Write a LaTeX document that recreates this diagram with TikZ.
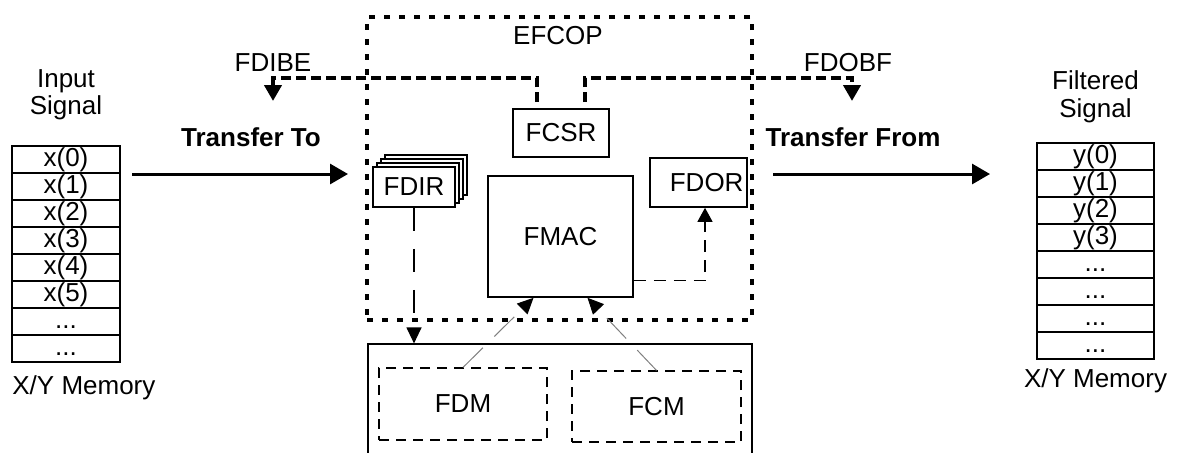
\documentclass[tikz,border=0pt]{standalone}
\usepackage{fontspec}
\setmainfont{Liberation Sans}
\usetikzlibrary{positioning,arrows.meta,shadows}

\begin{document}
\begin{tikzpicture}[x=0.5pt,y=-0.5pt]
		\tikzset{Cell/.style = {draw, line width=0.8pt, inner sep=0pt, outer sep=0pt, minimum width=54pt, minimum height=13.5pt, text height=9.5pt, text depth=2.6pt, font=\fontsize{13}{13}\selectfont},
			Block/.style = {draw, line width=0.8pt, inner sep=0pt, font=\fontsize{13}{13}\selectfont},
			Part/.style = {Block, line width=0.6pt, dash pattern=on 5pt off 3.5pt},
			Lbl/.style = {inner sep=0pt, align=center, font=\fontsize{13}{13}\selectfont},
			Dots/.style = {line width=2pt, dash pattern=on 3pt off 4.5pt},
			Flag/.style = {line width=2pt, dash pattern=on 5pt off 2.5pt, -{Triangle[width=8.5pt,length=8pt]}},
			Big/.style = {line width=1.5pt, -{Triangle[width=10pt,length=9pt]}},
			Link/.style = {line width=0.6pt, dash pattern=on 11.5pt off 9pt, -{Triangle[width=7.5pt,length=8pt]}},
			Out/.style = {line width=0.6pt, dash pattern=on 6pt off 4pt, -{Triangle[width=7.5pt,length=7pt]}},
			Feed/.style = {gray, line width=0.5pt, dash pattern=on 14pt off 8pt, -{Triangle[width=7.5pt,length=8pt,color=black]}}}
		\useasboundingbox (0,0) rectangle (1187,452);
		\clip (0,0) rectangle (1187,452);
		% input memory
		\node[Cell]    (x0) at (66,159.5) {x(0)};
		\node[Cell]    (x1) [below = 0pt of x0] {x(1)};
		\node[Cell]    (x2) [below = 0pt of x1] {x(2)};
		\node[Cell]    (x3) [below = 0pt of x2] {x(3)};
		\node[Cell]    (x4) [below = 0pt of x3] {x(4)};
		\node[Cell]    (x5) [below = 0pt of x4] {x(5)};
		\node[Cell]    (x6) [below = 0pt of x5] {...};
		\node[Cell]    (x7) [below = 0pt of x6] {...};
		\node[Lbl, font=\fontsize{13}{11}\selectfont] (inSig) [above = 13pt of x0] {Input\\Signal};
		\node[Lbl]     (inMem) [below right = 6.5pt and 0pt of x7.south west] {X/Y Memory};
		% output memory
		\node[Cell, minimum width=58.5pt] (y0) at (1095.5,156.5) {y(0)};
		\node[Cell, minimum width=58.5pt] (y1) [below = 0pt of y0] {y(1)};
		\node[Cell, minimum width=58.5pt] (y2) [below = 0pt of y1] {y(2)};
		\node[Cell, minimum width=58.5pt] (y3) [below = 0pt of y2] {y(3)};
		\node[Cell, minimum width=58.5pt] (y4) [below = 0pt of y3] {...};
		\node[Cell, minimum width=58.5pt] (y5) [below = 0pt of y4] {...};
		\node[Cell, minimum width=58.5pt] (y6) [below = 0pt of y5] {...};
		\node[Cell, minimum width=58.5pt] (y7) [below = 0pt of y6] {...};
		\node[Lbl, font=\fontsize{13}{14}\selectfont] (outSig) [above = 10pt of y0] {Filtered\\Signal};
		\node[Lbl]     (outMem) [below = 4.5pt of y7] {X/Y Memory};
		% filter unit
		\node[draw, Dots, minimum width=192.5pt, minimum height=151.5pt] (efcop) at (559.5,168.5) {};
		\node[Lbl]     (efcopT) at (558,36) {EFCOP};
		\node[Block, minimum width=48pt, minimum height=24pt]     (fcsr) at (561,133) {FCSR};
		\node[Block, line width=0.9pt, fill=white, minimum width=41pt, minimum height=20pt,
			copy shadow={shadow xshift=6pt, shadow yshift=6pt, line width=0.9pt},
			copy shadow={shadow xshift=4pt, shadow yshift=4pt, line width=0.9pt},
			copy shadow={shadow xshift=2pt, shadow yshift=2pt, line width=0.9pt}] (fdir) at (414,187) {FDIR};
		\node[Block, minimum width=72.5pt, minimum height=60.5pt] (fmac) at (560.5,236.5) {FMAC};
		\node[Block, minimum width=48.5pt, minimum height=24.5pt, text width=45pt, align=right, inner xsep=1.5pt] (fdor) at (698.5,182.5) {FDOR};
		% memory below
		\node[Block, line width=0.6pt, minimum width=192pt, minimum height=70pt] (mem) at (560,414) {};
		\node[Part, minimum width=84pt, minimum height=36pt]     (fdm) at (463,404) {FDM};
		\node[Part, minimum width=84.5pt, minimum height=35.5pt] (fcm) at (656.5,406.5) {FCM};
		% flags
		\node[Lbl]     (fdibe) at (273,63) {FDIBE};
		\node[Lbl]     (fdobf) at (848,63) {FDOBF};
		\coordinate (ibeTop) at (273,78);
		\coordinate (ibeEnd) at (273,101);
		\coordinate (obfTop) at (852,78);
		\coordinate (obfEnd) at (852,101);
		\draw [Flag] ([xshift=-12pt,yshift=3pt]fcsr.north) |- (ibeTop) -- (ibeEnd);
		\draw [Flag] ([xshift=12pt,yshift=3pt]fcsr.north) |- (obfTop) -- (obfEnd);
		% transfers
		\node[Lbl, font=\fontsize{13}{13}\selectfont\bfseries] (toT) at (251,137) {Transfer To};
		\node[Lbl, font=\fontsize{13}{13}\selectfont\bfseries] (fromT) at (853,137) {Transfer From};
		\coordinate (toS) at (132,174);
		\coordinate (toE) at (348,174);
		\coordinate (fromS) at (773,174);
		\coordinate (fromE) at (990,174);
		\draw [Big] (toS) -- (toE);
		\draw [Big] (fromS) -- (fromE);
		% data paths
		\draw [Link] (fdir) -- (fdir |- mem.north);
		\draw [Out] ([yshift=8.5pt]fmac.south east) -| ([xshift=3.25pt]fdor.south);
		\draw [Feed] (fdm.north) -- ([xshift=-13.5pt]fmac.south);
		\draw [Feed] (fcm.north) -- ([xshift=13.5pt]fmac.south);
	\end{tikzpicture}
\end{document}
